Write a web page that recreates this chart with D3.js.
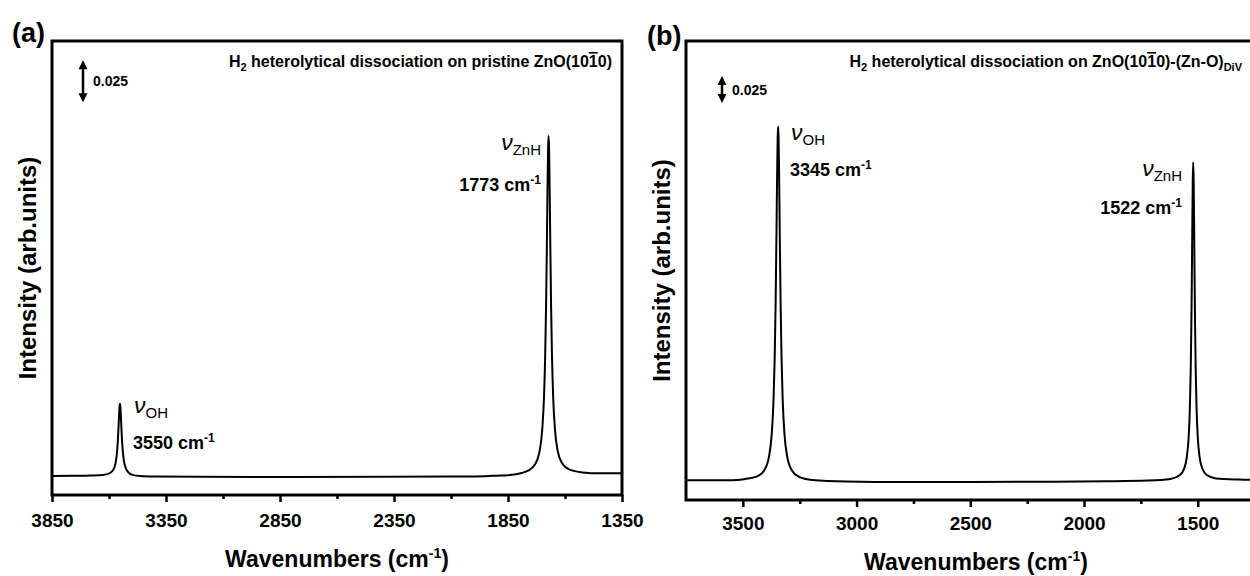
<!DOCTYPE html>
<html><head><meta charset="utf-8">
<script src="https://cdn.jsdelivr.net/npm/d3@7"></script>
<style>
body{margin:0;background:#fff}
svg{display:block}
text{font-family:"Liberation Sans",Arial,Helvetica,sans-serif;fill:#000}
</style>
</head><body>
<svg id="c" width="1250" height="576"></svg>
<script>
// ---------- Panel (a) data: pristine ZnO(10-10) ----------
const waveA = [3850,3750,3680,3642,3607,3587,3577,3570,3565,3561,3558,3556,3554,3552,3550,3548,3546,3543,3539,3534,3527,3517,3497,3462,3400,3200,2800,2400,2100,1950,1900,1850,1822,1790,1762,1732,1712,1700,1692,1687,1683,1679,1676,1674,1672,1670,1668,1665,1661,1657,1652,1644,1632,1612,1582,1522,1450,1350];
const intA  = [0.0006,0.0007,0.0009,0.0010,0.0017,0.0033,0.0055,0.0092,0.0145,0.0221,0.0304,0.0365,0.0416,0.0436,0.0416,0.0365,0.0304,0.0221,0.0145,0.0092,0.0055,0.0031,0.0013,0.0006,0.0003,0.0001,0.0000,0.0001,0.0003,0.0005,0.0008,0.0011,0.0015,0.0024,0.0038,0.0074,0.0150,0.0280,0.0479,0.0716,0.1020,0.1448,0.1794,0.1965,0.2030,0.1965,0.1794,0.1448,0.1020,0.0716,0.0480,0.0283,0.0155,0.0080,0.0045,0.0027,0.0022,0.0022];
const ticksA = [3850,3350,2850,2350,1850,1350];
const minorA = [3600,3100,2600,2100,1600];

// ---------- Panel (b) data: ZnO(10-10)-(Zn-O)DiV ----------
const waveB = [3750,3650,3550,3495,3435,3405,3385,3373,3365,3360,3356,3352,3349,3347,3345,3343,3341,3338,3334,3330,3325,3317,3305,3285,3255,3195,3045,2800,2500,2200,1900,1720,1620,1580,1560,1548,1540,1535,1531,1528,1526,1524,1522,1520,1518,1516,1514,1512,1509,1505,1500,1492,1480,1460,1420,1320,1200];
const intB  = [0.0015,0.0015,0.0017,0.0026,0.0054,0.0112,0.0237,0.0445,0.0768,0.1155,0.1650,0.2346,0.2910,0.3190,0.3293,0.3190,0.2910,0.2344,0.1647,0.1152,0.0765,0.0442,0.0234,0.0109,0.0050,0.0019,0.0005,0.0000,0.0000,0.0002,0.0006,0.0013,0.0028,0.0062,0.0123,0.0233,0.0417,0.0663,0.1030,0.1485,0.1898,0.2370,0.2786,0.2960,0.2786,0.2370,0.1898,0.1485,0.1030,0.0663,0.0417,0.0233,0.0125,0.0064,0.0032,0.0022,0.0018];
const ticksB = [3500,3000,2500,2000,1500];
const minorB = [3250,2750,2250,1750];

const scaleBarValue = 0.025;

const svg = d3.select('#c');

function drawPanel(cfg){
  const x = d3.scaleLinear().domain(cfg.xDomain).range(cfg.xRange);
  const y = d3.scaleLinear().domain(cfg.yDomain).range(cfg.yRange);
  const g = svg.append('g');
  const [x0,x1] = cfg.xRange, [yb,yt] = cfg.yRange;

  // spectrum
  const pts = cfg.wave.map((w,i)=>[w,cfg.int[i]]);
  g.append('path').datum(pts)
    .attr('d', d3.line().x(d=>x(d[0])).y(d=>y(d[1])).curve(d3.curveMonotoneX))
    .attr('fill','none').attr('stroke','#000').attr('stroke-width',2)
    .attr('stroke-linejoin','round');

  // frame
  g.append('rect').attr('x',x0).attr('y',yt).attr('width',x1-x0).attr('height',yb-yt)
    .attr('fill','none').attr('stroke','#000').attr('stroke-width',3);

  // major ticks
  const ax = g.append('g').attr('transform',`translate(0,${yb})`)
    .call(d3.axisBottom(x).tickValues(cfg.ticks).tickSize(7).tickSizeOuter(0).tickFormat(d3.format('d')));
  ax.select('.domain').remove();
  ax.selectAll('line').attr('stroke','#000').attr('stroke-width',2.5);
  ax.selectAll('text').attr('y',cfg.tickLabelOffset).attr('dy',0)
    .style('font-size','19px').style('font-weight','bold')
    .style('font-family','"Liberation Sans",Arial,sans-serif');
  // minor ticks
  const mx = g.append('g').attr('transform',`translate(0,${yb})`)
    .call(d3.axisBottom(x).tickValues(cfg.minor).tickSize(4).tickSizeOuter(0).tickFormat(''));
  mx.select('.domain').remove();
  mx.selectAll('line').attr('stroke','#000').attr('stroke-width',2.5);

  // x title
  const xt = g.append('text').attr('x',(x0+x1)/2).attr('y',cfg.xTitleY)
    .attr('text-anchor','middle').style('font-size','23px').style('font-weight','bold');
  xt.append('tspan').text('Wavenumbers (cm');
  xt.append('tspan').text('-1').attr('dy',-9).style('font-size','14px');
  xt.append('tspan').text(')').attr('dy',9);

  // y title
  g.append('text').attr('transform',`translate(${cfg.yTitleX},${(yb+yt)/2}) rotate(-90)`)
    .attr('text-anchor','middle').style('font-size','24px').style('font-weight','bold')
    .text('Intensity (arb.units)');

  // panel letter
  g.append('text').attr('x',cfg.letterX).attr('y',cfg.letterY)
    .style('font-size','27px').style('font-weight','bold').text(cfg.letter);

  // title inside frame
  const t = g.append('text').attr('x',cfg.titleX).attr('y',cfg.titleY).attr('text-anchor','end')
    .style('font-size','16px').style('font-weight','bold');
  t.append('tspan').text('H');
  t.append('tspan').text('2').attr('dy',4).style('font-size','11px');
  t.append('tspan').text(cfg.titleMid).attr('dy',-4);
  t.append('tspan').text('1').style('text-decoration','overline');
  t.append('tspan').text(cfg.titleEnd);
  if(cfg.titleSub){
    t.append('tspan').text(cfg.titleSub).attr('dy',4).style('font-size','11px');
  }

  // scale bar (double-headed arrow)
  const bx = cfg.barX, by0 = y(cfg.barBottom), by1 = y(cfg.barBottom+scaleBarValue);
  const ah = 9, aw = 4.5;
  g.append('line').attr('x1',bx).attr('x2',bx).attr('y1',by0-ah+1).attr('y2',by1+ah-1)
    .attr('stroke','#000').attr('stroke-width',2.5);
  g.append('path').attr('d',`M${bx},${by1}L${bx-aw},${by1+ah}L${bx+aw},${by1+ah}Z M${bx},${by0}L${bx-aw},${by0-ah}L${bx+aw},${by0-ah}Z`)
    .attr('fill','#000');
  g.append('text').attr('x',bx+10).attr('y',(by0+by1)/2+5)
    .style('font-size','14px').style('font-weight','bold').text('0.025');

  // peak annotations
  cfg.notes.forEach(n=>{
    const a = g.append('text').attr('x',n.x).attr('y',n.y).attr('text-anchor',n.anchor);
    a.append('tspan').text('ν').style('font-style','italic').style('font-size','23px');
    a.append('tspan').text(n.sub).attr('dy',5).style('font-size','15px');
    const b = g.append('text').attr('x',n.x2).attr('y',n.y+ (n.dy2)).attr('text-anchor',n.anchor)
      .style('font-weight','bold').style('font-size','18px');
    b.append('tspan').text(n.val+' cm');
    b.append('tspan').text('-1').attr('dy',-7).style('font-size','12px');
  });
}

drawPanel({
  wave: waveA, int: intA, ticks: ticksA, minor: minorA,
  xDomain:[3850,1350], xRange:[52,622],
  yDomain:[-0.0107,0.2595], yRange:[495,41],
  tickLabelOffset:32, xTitleY:567, yTitleX:36,
  letter:'(a)', letterX:12, letterY:42,
  titleX:612, titleY:67, titleMid:' heterolytical dissociation on pristine ZnO(10', titleEnd:'0)',
  barX:83, barBottom:0.2231,
  notes:[
    {x:134,y:413,anchor:'start',sub:'OH',x2:133,dy2:36,val:'3550'},
    {x:541,y:150,anchor:'end',sub:'ZnH',x2:541,dy2:41,val:'1773'}
  ]
});

drawPanel({
  wave: waveB, int: intB, ticks: ticksB, minor: minorB,
  xDomain:[3750,1200], xRange:[686,1266],
  yDomain:[-0.0167,0.4084], yRange:[500,41],
  tickLabelOffset:30, xTitleY:570, yTitleX:670,
  letter:'(b)', letterX:647, letterY:45,
  titleX:1242, titleY:67, titleMid:' heterolytical dissociation on ZnO(10', titleEnd:'0)-(Zn-O)', titleSub:'DiV',
  barX:722, barBottom:0.3509,
  notes:[
    {x:791,y:140,anchor:'start',sub:'OH',x2:790,dy2:36,val:'3345'},
    {x:1182,y:176,anchor:'end',sub:'ZnH',x2:1182,dy2:38,val:'1522'}
  ]
});
</script>
</body></html>
